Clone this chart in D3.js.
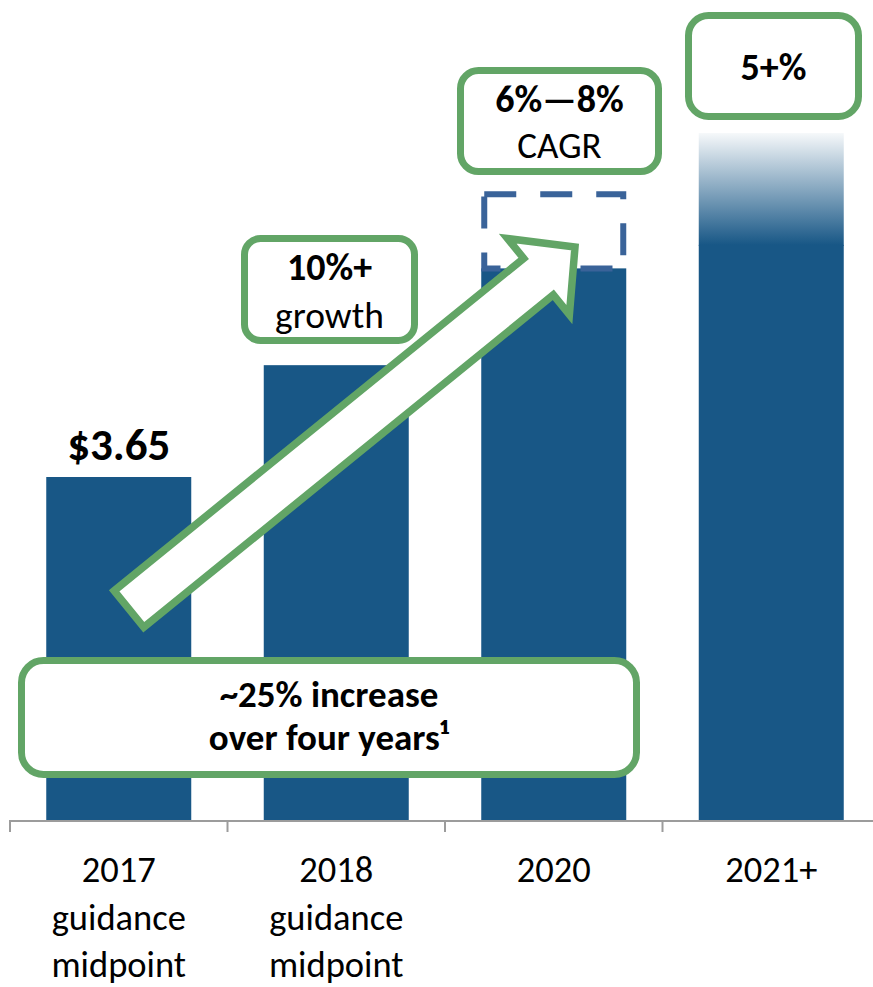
<!DOCTYPE html>
<html>
<head>
<meta charset="utf-8">
<script src="https://cdn.jsdelivr.net/npm/d3@7"></script>
<style>
  html, body { margin: 0; padding: 0; background: #fff; }
  svg { display: block; }
  text { font-family: Carlito, Lato, "Open Sans", sans-serif; fill: #000; }
</style>
</head>
<body>
<svg id="chart" width="873" height="987"></svg>
<script>
// ---- data ----
const categories = ["2017", "2018", "2020", "2021+"];
const categoryLabels = [["2017", "guidance", "midpoint"], ["2018", "guidance", "midpoint"], ["2020"], ["2021+"]];
const values = [3.65, 4.84, 5.87, 6.12];          // bar heights (index scale, $3.65 = 2017)
const target2020 = [5.87, 6.66];                    // dashed upside range on 2020
const fade2021Top = 7.31;                           // top of faded portion of 2021+ bar
const valueLabels = ["$3.65", null, null, null];

// ---- layout ----
const W = 873, H = 987;
const barColor = "#185786", green = "#62a566", dashColor = "#3a6399";
const svg = d3.select("#chart");
const defs = svg.append("defs");

const x = d3.scaleBand().domain(categories).range([10, 880]).paddingInner(1/3).paddingOuter(1/6);
const y = d3.scaleLinear().domain([0, 8]).range([820, 820 - 8 * 343 / 3.65]);
const step = x.step(), bw = x.bandwidth();

// gradient for 2021+
const grad = defs.append("linearGradient").attr("id", "fade")
  .attr("gradientUnits", "userSpaceOnUse")
  .attr("x1", 0).attr("x2", 0)
  .attr("y1", y(fade2021Top)).attr("y2", y(values[3]));
grad.append("stop").attr("offset", "0%").attr("stop-color", barColor).attr("stop-opacity", 0.04);
grad.append("stop").attr("offset", "100%").attr("stop-color", barColor).attr("stop-opacity", 1);

// bars
svg.append("g").selectAll("rect.bar").data(categories).join("rect")
  .attr("class", "bar")
  .attr("x", d => x(d)).attr("width", bw)
  .attr("y", (d, i) => y(values[i]))
  .attr("height", (d, i) => y(0) - y(values[i]))
  .attr("fill", barColor);

// faded top of 2021+
svg.append("rect")
  .attr("x", x("2021+")).attr("width", bw)
  .attr("y", y(fade2021Top)).attr("height", y(values[3]) - y(fade2021Top) + 1)
  .attr("fill", "url(#fade)");

// dashed box on 2020
svg.append("rect")
  .attr("x", x("2020") + 3).attr("width", bw - 6)
  .attr("y", y(target2020[1])).attr("height", y(target2020[0]) - y(target2020[1]))
  .attr("fill", "none").attr("stroke", dashColor).attr("stroke-width", 6)
  .attr("stroke-dasharray", "32 24");

// axis
const axisY = y(0);
svg.append("line").attr("x1", 10).attr("x2", W).attr("y1", axisY + 1).attr("y2", axisY + 1)
  .attr("stroke", "#9c9c9c").attr("stroke-width", 2);
categories.forEach(c => {
  const tx = x(c) - step * x.paddingInner() / 2;
  svg.append("line").attr("x1", tx).attr("x2", tx).attr("y1", axisY).attr("y2", axisY + 12)
    .attr("stroke", "#9c9c9c").attr("stroke-width", 2);
});

// category labels
categories.forEach((c, i) => {
  const t = svg.append("text").attr("text-anchor", "middle")
    .attr("x", x(c) + bw / 2).attr("y", 882).style("font-size", "36.5px");
  categoryLabels[i].forEach((line, j) => {
    t.append("tspan").attr("x", x(c) + bw / 2).attr("dy", j === 0 ? 0 : 47.5).text(line);
  });
});

// value label
valueLabels.forEach((v, i) => {
  if (!v) return;
  svg.append("text").attr("text-anchor", "middle")
    .attr("x", x(categories[i]) + bw / 2).attr("y", y(values[i]) - 17)
    .style("font-size", "45px").style("font-weight", 700).text(v);
});

// growth arrow
(function () {
  const tail = [129, 609], tip = [575, 247];
  const dx = tip[0] - tail[0], dy = tip[1] - tail[1];
  const L = Math.hypot(dx, dy), ux = dx / L, uy = dy / L, px = -uy, py = ux;
  const sw = 23.5, hw = 49, hl = 47, base = L - hl;
  const P = (a, p) => [tail[0] + ux * a + px * p, tail[1] + uy * a + py * p];
  const pts = [P(0, -sw), P(base, -sw), P(base, -hw), P(L, 0), P(base, hw), P(base, sw), P(0, sw)];
  svg.append("path").attr("d", "M" + pts.map(p => p.join(",")).join("L") + "Z")
    .attr("fill", "#fff").attr("stroke", green).attr("stroke-width", 7.5).attr("stroke-linejoin", "miter");
})();

// annotation boxes
function box(x0, y0, x1, y1, r, lines) {
  svg.append("rect").attr("x", x0).attr("y", y0).attr("width", x1 - x0).attr("height", y1 - y0)
    .attr("rx", r).attr("ry", r).attr("fill", "#fff").attr("stroke", green).attr("stroke-width", 7);
  lines.forEach(l => {
    svg.append("text").attr("text-anchor", "middle").attr("x", (x0 + x1) / 2).attr("y", l.y)
      .style("font-size", l.size + "px").style("font-weight", l.bold ? 700 : 400).text(l.text);
  });
}
box(244.5, 238.5, 414.5, 340.5, 16, [
  { text: "10%+", y: 280, size: 38, bold: true },
  { text: "growth", y: 328, size: 37.5, bold: false }]);
box(460.5, 70.5, 658.5, 171.5, 18, [
  { text: "6%\u20148%", y: 112, size: 38, bold: true },
  { text: "CAGR", y: 158, size: 37, bold: false }]);
box(688.5, 15.5, 858.5, 116.5, 20, [
  { text: "5+%", y: 80, size: 38, bold: true }]);
box(21.5, 660.5, 636.5, 774.5, 22, [
  { text: "~25% increase", y: 707, size: 37, bold: true },
  { text: "over four years\u00b9", y: 750, size: 37, bold: true }]);
</script>
</body>
</html>
